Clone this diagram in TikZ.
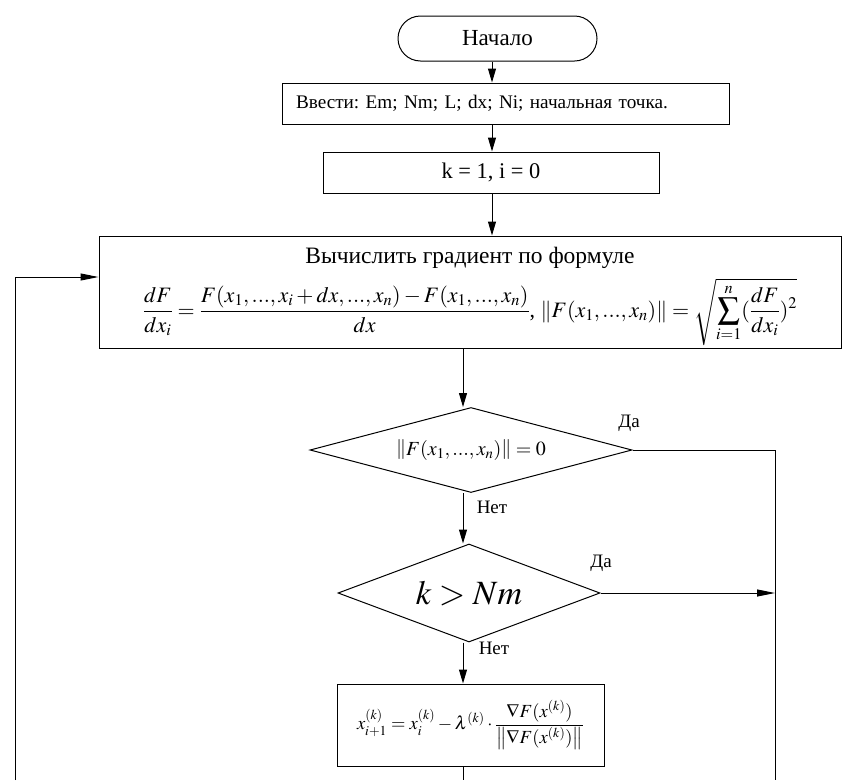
\documentclass[tikz,border=0pt]{standalone}
\usepackage{amsmath}
\usepackage{mathptmx}
\usepackage{fontspec}
\setmainfont{Liberation Serif}
\usetikzlibrary{arrows.meta,shapes.geometric}
\frenchspacing
\begin{document}
\begin{tikzpicture}[x=1pt,y=-1pt, line width=1pt,
  box/.style={draw, rectangle, inner sep=0pt},
  dia/.style={draw, diamond, inner sep=0pt},
  arr/.style={-{Triangle[length=14pt,width=8pt]}},
  harr/.style={-{Triangle[length=18pt,width=7pt]}},
  lbl/.style={font=\fontsize{19}{22}\selectfont, inner sep=0pt}]
\useasboundingbox[fill=white] (0,0) rectangle (855,780);
% nodes
\node[draw, rounded corners=22.5pt, minimum width=199pt, minimum height=45pt, inner sep=0pt,
      font=\fontsize{23}{27}\selectfont] (start) at (497.5,38.5) {Начало};
\node[box, minimum height=41pt, text width=419pt, inner xsep=14pt, align=left,
      font=\fontsize{19.2}{22}\selectfont] (inp) at (505.5,103.5) {Ввести: Em; Nm; L; dx; Ni; начальная точка.};
\node[box, minimum width=336pt, minimum height=41pt, font=\fontsize{22.4}{26}\selectfont] (k) at (491,172.5) {k = 1, i = 0};
\node[box, minimum width=742pt, minimum height=112pt] (grad) at (470,292) {};
\node[inner sep=0pt, font=\fontsize{23.5}{27}\selectfont] (gradtitle) at (470,258) {Вычислить градиент по формуле};
\node[inner sep=0pt, font=\fontsize{22}{26}\selectfont] (gradformula) at (470,312)
  {$\dfrac{dF}{dx_i}=\dfrac{F(x_1,...,x_i+dx,...,x_n)-F(x_1,...,x_n)}{dx}$,
   $\left\|F(x_1,...,x_n)\right\|=\sqrt{\displaystyle\sum_{i=1}^{n}(\dfrac{dF}{dx_i})^2}$};
\node[dia, minimum width=322pt, minimum height=85pt, shape aspect=3.8,
      font=\fontsize{20}{24}\selectfont] (d1) at (471,450) {$\left\|F(x_1,..., x_n)\right\|=0$};
\node[dia, minimum width=262pt, minimum height=98pt, shape aspect=2.67,
      font=\fontsize{34}{40}\selectfont] (d2) at (469,593) {$k>Nm$};
\node[box, minimum width=267pt, minimum height=82pt, font=\fontsize{18.5}{22}\selectfont] (b3) at (470.5,725)
  {$x_{i+1}^{(k)}=x_i^{(k)}-\lambda^{(k)}\cdot\dfrac{\nabla F(x^{(k)})}{\left\|\nabla F(x^{(k)})\right\|}$};
% labels
\node[lbl] (yes1) at (629,423) {Да};
\node[lbl] (no1) at (492,507) {Нет};
\node[lbl] (yes2) at (601,563) {Да};
\node[lbl] (no2) at (494,648) {Нет};
% coordinates
\coordinate (c1) at (492,0);
\coordinate (c2) at (463,0);
\coordinate (bot3) at (463,780);
\coordinate (rt) at (775,450);
\coordinate (rb) at (775,780);
\coordinate (lb) at (15,780);
\coordinate (lt) at (15,277);
% connectors
\draw[arr] (start.south -| c1) -- (inp.north -| c1);
\draw[arr] (inp.south -| c1) -- (k.north -| c1);
\draw[arr] (k.south -| c1) -- (grad.north -| c1);
\draw[arr] (grad.south -| c2) -- (d1.north -| c2);
\draw[arr] (d1.south -| c2) -- (d2.north -| c2);
\draw[arr] (d2.south -| c2) -- (b3.north -| c2);
\draw (b3.south -| c2) -- (bot3);
\draw (d1.east) -- (rt) -- (rb);
\draw[harr] (d2.east) -- (d2.east -| rt);
\draw[harr] (lb) -- (lt) -- (grad.west |- lt);
\end{tikzpicture}
\end{document}
